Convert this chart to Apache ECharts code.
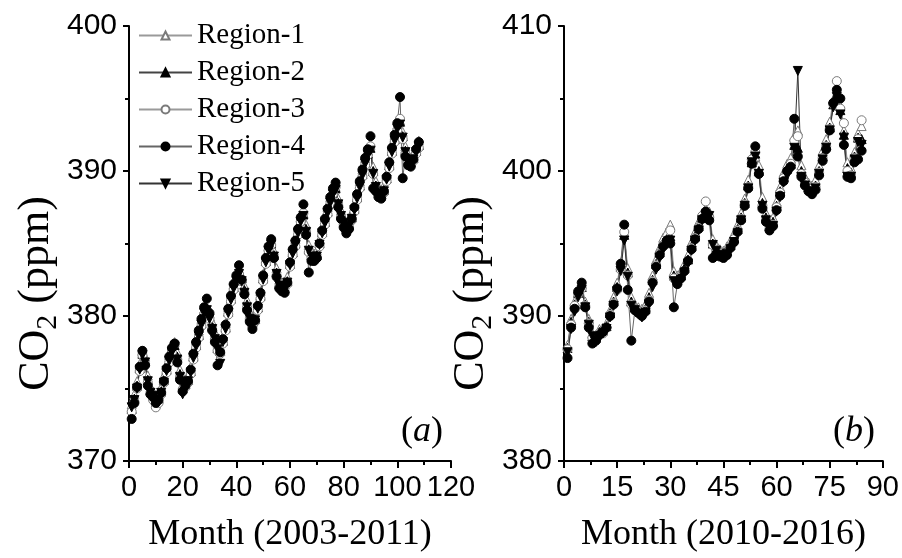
<!DOCTYPE html>
<html>
<head>
<meta charset="utf-8">
<script src="https://cdn.jsdelivr.net/npm/echarts@6/dist/echarts.min.js"></script>
<style>
  html, body { margin: 0; padding: 0; background: #fff; }
  #chart { width: 902px; height: 558px; }
</style>
</head>
<body>
<div id="chart"></div>
<script>
// Monthly CO2 (ppm), panel (a): 2003-2011, one value per month
const regionA1 = [373.9,374.6,375.5,376.7,377.6,377.2,375.9,375.1,374.8,374.5,374.6,375.1,
  375.9,376.6,377.3,377.9,378.2,377.5,376.3,375.3,375.6,375.9,376.5,377.5,
  378.3,379.0,379.8,380.5,380.6,380.2,379.6,378.9,378.1,377.9,378.6,379.5,
  380.6,381.5,382.2,382.7,383.1,382.8,382.1,381.1,380.3,379.9,380.1,380.9,
  381.7,382.9,384.0,384.8,385.1,384.5,383.3,382.5,382.3,382.2,382.7,383.9,
  384.7,385.3,386.1,386.8,387.1,386.3,384.9,384.5,384.3,384.5,385.3,386.1,
  386.8,387.5,388.2,388.7,388.9,388.1,387.3,386.8,386.4,386.6,387.1,387.7,
  388.5,389.3,390.1,390.9,391.4,391.8,390.3,389.3,388.8,388.7,389.0,389.8,
  390.7,391.7,392.5,393.2,393.5,392.7,391.7,391.1,390.9,391.2,391.7,392.1];
const regionA2 = [373.6,374.3,375.2,376.4,377.4,376.9,375.6,374.9,374.6,374.2,374.3,374.8,
  375.6,376.3,377.0,377.6,378.0,377.2,376.0,375.0,375.3,375.6,376.2,377.2,
  378.0,378.7,379.5,380.3,380.5,380.0,379.3,378.6,377.8,377.6,378.3,379.2,
  380.3,381.2,382.0,382.5,383.0,382.6,381.8,380.8,380.0,379.6,379.8,380.6,
  381.4,382.6,383.8,384.6,385.0,384.2,383.0,382.2,382.0,381.9,382.4,383.6,
  384.4,385.0,385.8,386.6,387.0,386.0,384.6,384.2,384.0,384.2,385.0,385.8,
  386.5,387.2,387.9,388.5,388.8,387.8,387.0,386.5,386.1,386.3,386.8,387.4,
  388.2,389.0,389.8,390.6,391.2,391.6,390.0,389.0,388.5,388.4,388.7,389.5,
  390.4,391.4,392.2,393.0,393.4,392.4,391.4,390.8,390.6,390.9,391.4,391.8];
const regionA3 = [373.4,374.1,375.0,376.2,377.3,376.7,375.4,374.6,374.2,373.7,374.0,374.6,
  375.4,376.1,376.8,377.5,378.1,377.0,375.8,374.8,375.1,375.4,376.0,377.0,
  377.8,378.5,379.3,380.1,380.4,379.8,379.1,378.4,377.6,377.4,378.1,379.0,
  380.1,381.0,381.8,382.4,382.9,382.4,381.6,380.6,379.8,379.3,379.6,380.4,
  381.2,382.4,383.6,384.5,384.9,384.0,382.8,382.0,381.8,381.7,382.2,383.4,
  384.2,384.8,385.6,386.5,387.1,385.8,384.4,384.0,383.8,384.0,384.8,385.6,
  386.3,387.0,387.7,388.4,388.9,387.6,386.8,386.3,385.9,386.1,386.6,387.2,
  388.0,388.8,389.6,390.4,391.1,391.7,389.8,388.8,388.2,388.1,388.5,389.3,
  390.2,391.2,392.0,392.8,393.6,392.2,391.2,390.6,390.4,390.7,391.2,391.6];
const regionA4 = [372.9,374.0,375.1,376.5,377.6,376.6,375.2,374.6,374.4,374.0,374.2,374.7,
  375.5,376.4,377.2,377.8,378.1,376.8,375.6,374.8,375.2,375.5,376.3,377.4,
  378.2,379.0,379.8,380.6,381.2,380.2,379.0,378.2,376.6,377.5,378.4,379.4,
  380.5,381.4,382.2,382.8,383.5,382.5,381.5,380.4,379.6,379.1,379.7,380.7,
  381.6,382.8,384.0,384.8,385.3,384.0,382.7,381.9,381.7,381.6,382.3,383.7,
  384.6,385.2,386.0,386.8,387.7,385.6,383.0,383.8,383.8,384.0,385.0,385.9,
  386.7,387.4,388.2,388.8,389.2,387.5,386.7,386.1,385.7,386.0,386.7,387.5,
  388.4,389.3,390.1,390.9,391.5,392.4,388.8,388.6,388.2,388.1,388.6,389.6,
  390.6,391.6,392.5,393.3,395.1,389.5,391.0,390.4,390.3,390.8,391.5,392.0];
const regionA5 = [373.7,374.2,375.0,376.3,377.3,376.8,375.5,374.7,374.5,374.1,374.2,374.7,
  375.4,376.2,376.9,377.5,377.9,377.0,375.8,374.6,375.2,375.5,376.1,377.1,
  377.9,378.6,379.4,380.2,380.4,379.8,379.1,378.4,377.7,376.7,378.2,379.1,
  380.2,381.1,381.9,382.4,382.9,382.4,381.6,380.6,379.8,379.5,379.7,380.5,
  381.3,382.5,383.7,384.5,384.9,384.1,382.9,382.1,381.9,381.8,382.3,383.5,
  384.3,384.9,385.7,386.5,386.9,385.8,384.5,384.1,383.9,384.1,384.9,385.7,
  386.4,387.1,387.8,388.4,388.7,387.7,386.9,386.4,386.0,386.2,386.7,387.3,
  388.1,388.9,389.7,390.5,391.1,391.4,389.8,388.9,388.4,388.2,388.6,389.4,
  390.3,391.3,392.1,392.9,393.2,392.3,391.3,390.6,390.4,390.8,391.3,391.7];

// Monthly CO2 (ppm), panel (b): 2010-2016
const regionB1 = [388.0,389.8,391.0,391.8,392.2,391.0,389.8,388.8,388.7,389.1,389.2,389.5,
  390.4,391.3,392.3,393.7,395.8,393.3,391.3,390.8,390.6,390.5,390.8,391.6,
  392.8,393.9,394.7,395.4,395.8,396.3,393.1,392.8,393.1,393.6,394.2,395.1,
  395.8,396.5,397.1,397.4,397.2,395.3,394.9,394.6,394.5,394.8,395.2,395.7,
  396.3,397.1,398.1,399.4,401.0,401.0,400.4,398.2,397.1,396.5,396.8,397.9,
  398.9,399.9,400.5,400.9,402.4,402.8,400.4,399.6,399.2,399.0,399.4,400.4,
  401.4,402.2,403.4,404.9,405.4,404.5,402.8,400.6,400.2,401.3,402.6,403.1];
const regionB2 = [387.8,389.6,390.8,391.6,392.0,390.8,389.6,388.6,388.5,388.9,389.0,389.3,
  390.2,391.0,392.0,393.4,395.6,393.0,391.0,390.6,390.4,390.3,390.5,391.3,
  392.5,393.6,394.4,395.0,395.3,395.5,392.8,392.5,392.8,393.3,393.9,394.8,
  395.5,396.2,396.8,397.2,397.0,395.0,394.6,394.4,394.3,394.5,394.9,395.4,
  396.0,396.8,397.8,399.0,400.6,401.2,400.0,397.8,396.8,396.2,396.5,397.6,
  398.6,399.6,400.2,400.5,401.8,401.6,400.0,399.3,398.9,398.7,399.0,400.0,
  401.0,401.8,403.0,404.6,405.3,404.2,402.5,400.2,399.9,401.0,402.3,402.2];
const regionB3 = [387.7,389.4,390.7,391.5,391.9,390.7,389.5,388.5,388.3,388.8,388.8,389.2,
  390.1,390.9,391.8,393.2,395.8,392.8,390.8,390.5,390.3,390.1,390.4,391.1,
  392.4,393.5,394.3,394.9,395.2,395.9,392.6,392.3,392.7,393.1,393.8,394.7,
  395.4,396.1,396.9,397.9,396.8,394.9,394.5,394.3,394.2,394.4,394.8,395.3,
  395.9,396.7,397.7,398.9,400.8,401.3,399.8,397.6,396.6,396.0,396.3,397.5,
  398.5,399.5,400.0,400.5,402.1,402.4,399.8,399.2,398.8,398.6,398.9,399.9,
  400.9,401.7,402.9,404.6,406.2,404.3,403.3,400.0,399.7,400.9,402.2,403.5];
const regionB4 = [387.1,389.2,390.5,391.7,392.3,390.6,389.2,388.1,388.3,388.7,388.9,389.2,
  390.0,390.8,391.9,393.6,396.3,391.8,388.3,390.4,390.2,390.0,390.3,391.0,
  392.3,393.4,394.2,394.8,395.2,395.0,390.6,392.2,392.6,393.1,393.8,394.6,
  395.3,396.0,396.7,397.2,396.6,394.0,394.3,394.1,394.0,394.2,394.7,395.1,
  395.8,396.6,397.6,398.8,400.5,401.7,399.8,397.4,396.5,395.9,396.2,397.3,
  398.3,399.3,400.0,400.3,403.6,401.0,399.6,399.0,398.6,398.4,398.7,399.7,
  400.7,401.5,402.8,404.7,405.6,405.0,401.8,399.6,399.5,400.6,400.8,401.4];
const regionB5 = [387.5,389.1,390.3,391.3,391.8,390.6,389.4,388.6,388.2,388.5,388.8,389.1,
  389.9,390.7,391.7,393.1,395.2,392.7,390.7,390.4,390.1,389.9,390.2,390.8,
  392.0,393.2,394.0,394.6,395.0,395.2,392.4,392.2,392.5,393.0,393.6,394.5,
  395.2,395.9,396.6,397.0,396.9,394.9,394.5,394.2,394.1,394.3,394.6,395.1,
  395.7,396.6,397.6,398.8,400.6,401.0,399.8,397.6,396.6,396.0,396.2,397.2,
  398.2,399.2,399.7,400.1,401.6,406.9,399.6,399.0,398.6,398.4,398.8,399.8,
  400.8,401.6,402.8,404.4,405.1,403.9,402.3,399.6,399.6,400.8,402.0,401.8];

const regionNames = ['Region-1', 'Region-2', 'Region-3', 'Region-4', 'Region-5'];
const panelA = [regionA1, regionA2, regionA3, regionA4, regionA5];
const panelB = [regionB1, regionB2, regionB3, regionB4, regionB5];

const xTitles = ['Month (2003-2011)', 'Month (2010-2016)'];
const xRanges = [[0, 120, 20], [0, 90, 15]];
const yRanges = [[370, 400, 10], [380, 410, 10]];
const panelTags = ['a', 'b'];

const SANS = '"Liberation Sans", Arial, sans-serif';
const SERIF = '"Liberation Serif", "Times New Roman", serif';

// marker look for each region: open/filled triangle, open/filled circle, down triangle
const markerStyles = [
  { symbol: 'triangle', rotate: 0,   fill: '#ffffff', border: '#7a7a7a', line: '#9a9a9a' },
  { symbol: 'triangle', rotate: 0,   fill: '#000000', border: '#000000', line: '#444444' },
  { symbol: 'circle',   rotate: 0,   fill: '#ffffff', border: '#7a7a7a', line: '#9a9a9a' },
  { symbol: 'circle',   rotate: 0,   fill: '#000000', border: '#000000', line: '#666666' },
  { symbol: 'triangle', rotate: 180, fill: '#000000', border: '#000000', line: '#333333' }
];

function toPoints(values) {
  return values.map((v, i) => [i + 1, v]);
}

const grids = [
  { left: 129, top: 26, width: 322, height: 439 },
  { left: 564, top: 26, width: 319, height: 439 }
];

const axisLineStyle = { color: '#000', width: 2 };

const xAxes = xRanges.map((r, k) => ({
  type: 'value', gridIndex: k, min: r[0], max: r[1], interval: r[2],
  name: xTitles[k], nameLocation: 'middle', nameGap: 56,
  nameTextStyle: { fontFamily: SERIF, fontSize: 36, color: '#000' },
  axisLine: { show: true, lineStyle: axisLineStyle },
  axisTick: { show: true, inside: false, length: 7, lineStyle: { color: '#000', width: 2 } },
  minorTick: { show: true, splitNumber: 2, length: 4, lineStyle: { color: '#000', width: 2 } },
  splitLine: { show: false },
  axisLabel: { fontFamily: SANS, fontSize: 29, color: '#000', margin: 12 }
}));

const yAxes = yRanges.map((r, k) => ({
  type: 'value', gridIndex: k, min: r[0], max: r[1], interval: r[2],
  name: '{t|CO}{s|2}{t| (ppm)}', nameLocation: 'middle', nameRotate: 90,
  nameGap: k === 0 ? 66 : 61,
  nameTextStyle: {
    padding: [0, 100, 0, 0],
    rich: {
      t: { fontFamily: SERIF, fontSize: 44, color: '#000', lineHeight: 44 },
      s: { fontFamily: SERIF, fontSize: 30, color: '#000', lineHeight: 30, padding: [24, 0, 0, 0] }
    }
  },
  axisLine: { show: true, lineStyle: axisLineStyle },
  axisTick: { show: true, inside: false, length: 6, lineStyle: { color: '#000', width: 2 } },
  minorTick: { show: true, splitNumber: 2, length: 4, lineStyle: { color: '#000', width: 2 } },
  splitLine: { show: false },
  axisLabel: { fontFamily: SANS, fontSize: 30, color: '#000', margin: 12 }
}));

const series = [];
[panelA, panelB].forEach((panel, k) => {
  panel.forEach((values, r) => {
    const m = markerStyles[r];
    series.push({
      type: 'line',
      name: regionNames[r],
      xAxisIndex: k,
      yAxisIndex: k,
      data: toPoints(values),
      symbol: m.symbol,
      symbolRotate: m.rotate,
      symbolSize: 9,
      showSymbol: true,
      lineStyle: { color: m.line, width: 1 },
      itemStyle: { color: m.fill, borderColor: m.border, borderWidth: 1 },
      emphasis: { disabled: true },
      animation: false
    });
  });
});

const tagLabels = panelTags.map((t, k) => ({
  type: 'text',
  right: k === 0 ? 902 - 443 : 902 - 875,
  top: 414,
  style: {
    text: '{n|(}{i|' + t + '}{n|)}',
    rich: {
      n: { fontFamily: SERIF, fontSize: 36, fill: '#000' },
      i: { fontFamily: SERIF, fontSize: 36, fontStyle: 'italic', fill: '#000' }
    }
  }
}));

const chart = echarts.init(document.getElementById('chart'), null, { renderer: 'canvas' });
chart.setOption({
  backgroundColor: '#fff',
  animation: false,
  grid: grids,
  xAxis: xAxes,
  yAxis: yAxes,
  legend: {
    data: regionNames,
    orient: 'vertical',
    left: 133,
    top: 16,
    itemWidth: 53,
    itemHeight: 10,
    itemGap: 8,
    selectedMode: false,
    textStyle: { fontFamily: SERIF, fontSize: 29, color: '#000', lineHeight: 29 }
  },
  graphic: tagLabels,
  series: series
});
</script>
</body>
</html>
